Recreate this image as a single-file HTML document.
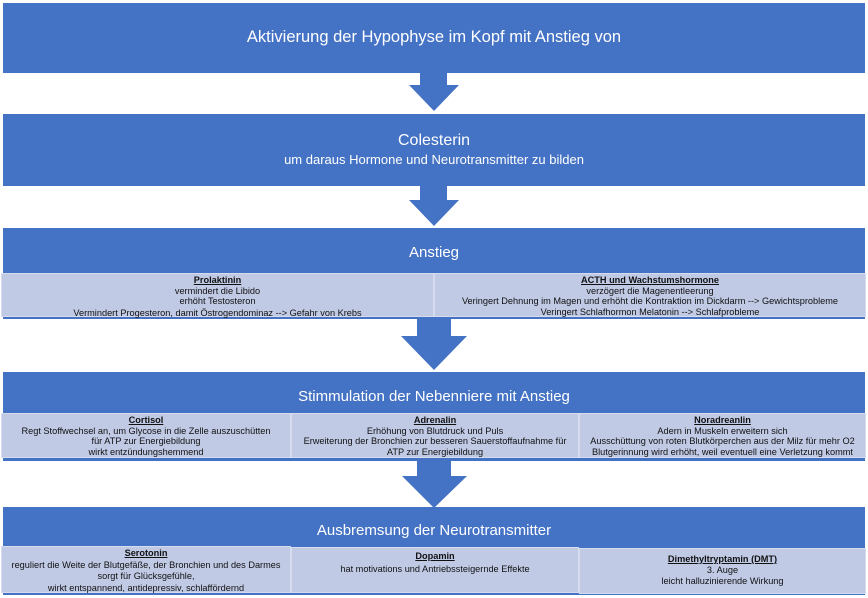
<!DOCTYPE html>
<html><head><meta charset="utf-8"><style>
*{margin:0;padding:0;box-sizing:border-box}
body{width:868px;height:598px;background:#fff;position:relative;overflow:hidden;font-family:"Liberation Sans",sans-serif}
.b{position:absolute;left:3px;width:862px;background:#4472C4;color:#fff;text-align:center}
.t{position:absolute;left:0;width:100%;text-align:center;color:#fff;font-size:15px}
.sub{position:absolute;background:#C0CAE5;border:1px solid #D6DCEE;color:#111;font-size:9.2px;text-align:center;line-height:10.5px;white-space:nowrap}
.sub u{font-weight:bold}
svg{position:absolute;left:0;top:0}
</style></head><body>
<div class="b" style="top:3px;height:70px"><div class="t" style="top:25px;font-size:16.5px">Aktivierung der Hypophyse im Kopf mit Anstieg von</div></div>
<div class="b" style="top:114px;height:72px"><div class="t" style="top:18px;font-size:16px">Colesterin</div><div class="t" style="top:38px;font-size:13px">um daraus Hormone und Neurotransmitter zu bilden</div></div>
<div class="b" style="top:228px;height:91px"><div class="t" style="top:16px">Anstieg</div></div>
<div class="sub" style="left:1px;top:273px;width:433px;height:44px;padding-top:1px"><u>Prolaktinin</u><br>vermindert die Libido<br>erhöht Testosteron<br><span style="line-height:12px">Vermindert Progesteron, damit Östrogendominaz --&gt; Gefahr von Krebs</span></div>
<div class="sub" style="left:434px;top:273px;width:432px;height:44px;padding-top:1px"><u>ACTH und Wachstumshormone</u><br>verzögert die Magenentleerung<br>Veringert Dehnung im Magen und erhöht die Kontraktion im Dickdarm --&gt; Gewichtsprobleme<br>Veringert Schlafhormon Melatonin --&gt; Schlafprobleme</div>
<div class="b" style="top:372px;height:89px"><div class="t" style="top:16px">Stimmulation der Nebenniere mit Anstieg</div></div>
<div class="sub" style="left:1px;top:413px;width:290px;height:45px;padding-top:1px"><u>Cortisol</u><br>Regt Stoffwechsel an, um Glycose in die Zelle auszuschütten<br>für ATP zur Energiebildung<br>wirkt entzündungshemmend</div>
<div class="sub" style="left:291px;top:413px;width:288px;height:45px;padding-top:1px"><u>Adrenalin</u><br>Erhöhung von Blutdruck und Puls<br>Erweiterung der Bronchien zur besseren Sauerstoffaufnahme für<br>ATP zur Energiebildung</div>
<div class="sub" style="left:579px;top:413px;width:287px;height:45px;padding-top:1px"><u>Noradreanlin</u><br>Adern in Muskeln erweitern sich<br>Ausschüttung von roten Blutkörperchen aus der Milz für mehr O2<br>Blutgerinnung wird erhöht, weil eventuell eine Verletzung kommt</div>
<div class="b" style="top:507px;height:88px"><div class="t" style="top:15px">Ausbremsung der Neurotransmitter</div></div>
<div class="sub" style="left:1px;top:546px;width:290px;height:47px;padding-top:1px;line-height:11.5px"><u>Serotonin</u><br>reguliert die Weite der Blutgefäße, der Bronchien und des Darmes<br>sorgt für Glücksgefühle,<br>wirkt entspannend, antidepressiv, schlaffördernd</div>
<div class="sub" style="left:291px;top:547px;width:288px;height:46px;padding-top:2px;line-height:13px"><u>Dopamin</u><br>hat motivations und Antriebssteigernde Effekte</div>
<div class="sub" style="left:579px;top:548px;width:287px;height:46px;padding-top:5px;line-height:11px"><u>Dimethyltryptamin (DMT)</u><br>3. Auge<br>leicht halluzinierende Wirkung</div>
<svg width="868" height="598">
<g fill="#4472C4">
<polygon points="420,72 447,72 447,85 459,85 434,111 409,85 420,85"/>
<polygon points="420,185 447,185 447,200 459,200 434,226 409,200 420,200"/>
<polygon points="417,319 451,319 451,336 467,336 434,370 401,336 417,336"/>
<polygon points="417,460 451,460 451,476 467,476 434,508 402,476 417,476"/>
</g>
</svg>
</body></html>
